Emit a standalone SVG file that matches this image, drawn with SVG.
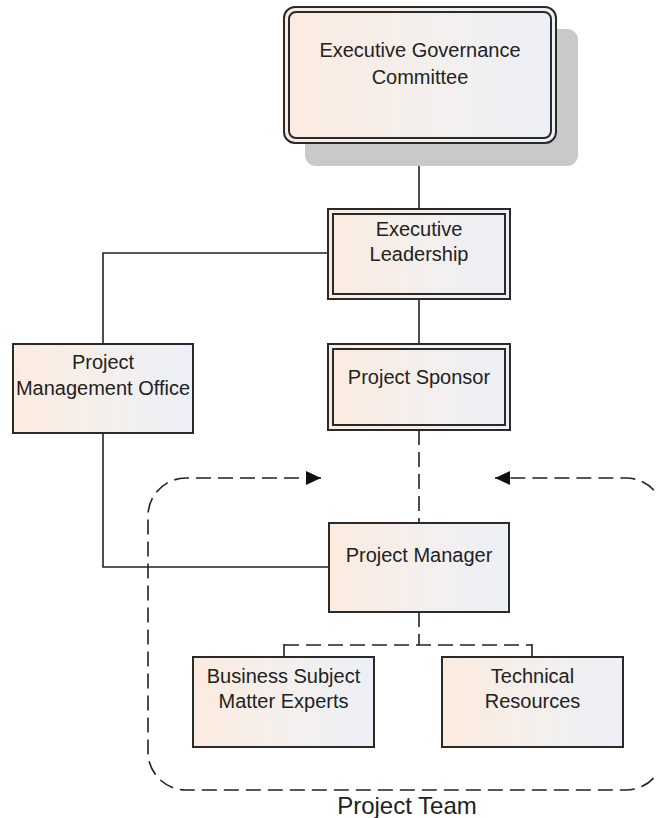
<svg xmlns="http://www.w3.org/2000/svg" width="656" height="818" viewBox="0 0 656 818">
  <defs>
    <linearGradient id="boxFill" x1="0" y1="0" x2="1" y2="0">
      <stop offset="0" stop-color="#fcebdf"/>
      <stop offset="0.5" stop-color="#f4efec"/>
      <stop offset="1" stop-color="#ecf0f7"/>
    </linearGradient>
    <marker id="arrow" viewBox="0 0 15 14" refX="15" refY="7" markerWidth="15" markerHeight="14" markerUnits="userSpaceOnUse" orient="auto-start-reverse">
      <path d="M0,0 L15,7 L0,14 z" fill="#111"/>
    </marker>
    <style>
      .box { fill: url(#boxFill); stroke: #2a2a2a; stroke-width: 2; }
      .inner { fill: none; stroke: #2a2a2a; stroke-width: 2; }
      .line { fill: none; stroke: #222; stroke-width: 1.6; }
      .dash { fill: none; stroke: #222; stroke-width: 1.6; stroke-dasharray: 15 7; }
      .label { font-family: "Liberation Sans", Arial, sans-serif; font-size: 20px; fill: #222; text-anchor: middle; }
      .team { font-family: "Liberation Sans", Arial, sans-serif; font-size: 24px; fill: #222; text-anchor: middle; }
    </style>
  </defs>

  <rect width="656" height="818" fill="#ffffff"/>

  <!-- connectors -->
  <g id="connectors">
    <path class="line" d="M419,143 V209"/>
    <path class="line" d="M419,299 V344"/>
    <path class="line" d="M328,253 H103 V344"/>
    <path class="line" d="M103,433 V567 H329"/>
    <path class="dash" d="M419,430 V523"/>
    <path class="dash" d="M419,612 V645"/>
    <path class="dash" d="M284,645 H532"/>
    <path class="line" d="M284,644 V657 M532,644 V657"/>
  </g>

  <!-- project team boundary with inward arrows -->
  <g id="project-team">
    <path class="dash" marker-start="url(#arrow)" marker-end="url(#arrow)"
          d="M321,478 H186 A38,38 0 0 0 148,516 V752 A38,38 0 0 0 186,790 H626 A38,38 0 0 0 664,752 V516 A38,38 0 0 0 626,478 H495"/>
    <text class="team" x="407" y="814">Project Team</text>
  </g>

  <!-- nodes -->
  <g id="executive-governance-committee">
    <rect x="305" y="29" width="273" height="137" rx="11" fill="#c9c9c9"/>
    <rect class="box" x="284" y="7" width="272" height="136" rx="11"/>
    <rect class="inner" x="289" y="12" width="262" height="126" rx="7"/>
    <text class="label" x="420" y="57">Executive Governance</text>
    <text class="label" x="420" y="84">Committee</text>
  </g>

  <g id="executive-leadership">
    <rect class="box" x="328" y="209" width="182" height="90"/>
    <rect class="inner" x="333" y="214" width="172" height="80"/>
    <text class="label" x="419" y="236">Executive</text>
    <text class="label" x="419" y="261">Leadership</text>
  </g>

  <g id="project-sponsor">
    <rect class="box" x="328" y="344" width="182" height="86"/>
    <rect class="inner" x="333" y="349" width="172" height="76"/>
    <text class="label" x="419" y="384">Project Sponsor</text>
  </g>

  <g id="project-management-office">
    <rect class="box" x="13" y="344" width="180" height="89"/>
    <text class="label" x="103" y="369">Project</text>
    <text class="label" x="103" y="395">Management Office</text>
  </g>

  <g id="project-manager">
    <rect class="box" x="329" y="523" width="180" height="89"/>
    <text class="label" x="419" y="562">Project Manager</text>
  </g>

  <g id="business-subject-matter-experts">
    <rect class="box" x="193" y="657" width="181" height="90"/>
    <text class="label" x="283.5" y="683">Business Subject</text>
    <text class="label" x="283.5" y="708">Matter Experts</text>
  </g>

  <g id="technical-resources">
    <rect class="box" x="442" y="657" width="181" height="90"/>
    <text class="label" x="532.5" y="683">Technical</text>
    <text class="label" x="532.5" y="708">Resources</text>
  </g>
</svg>
